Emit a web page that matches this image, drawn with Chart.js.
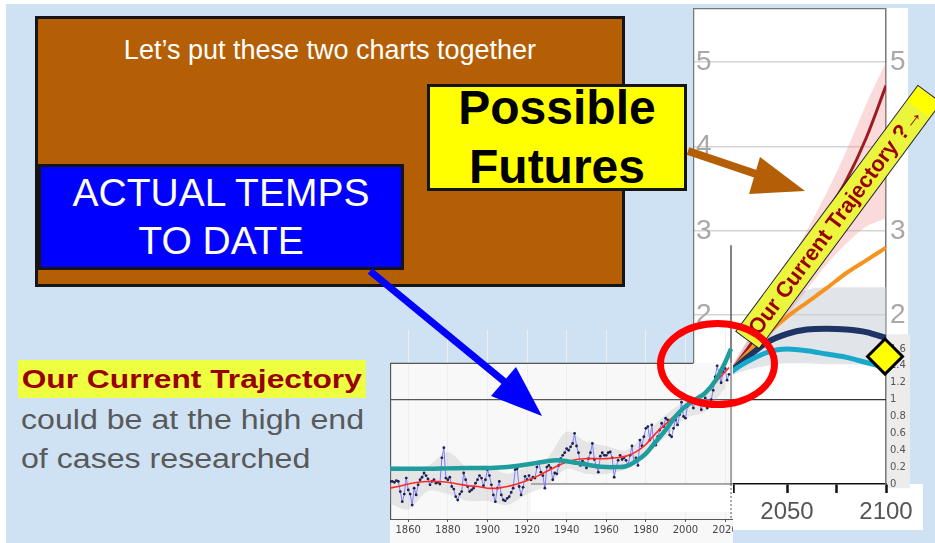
<!DOCTYPE html>
<html>
<head>
<meta charset="utf-8">
<script src="https://cdn.jsdelivr.net/npm/chart.js@4.4.1/dist/chart.umd.min.js"></script>
<style>
body{margin:0;background:#fff;width:935px;height:543px;overflow:hidden;position:relative;font-family:'Liberation Sans',Arial,sans-serif}
.abs{position:absolute}
#slide{left:6px;top:4px;width:929px;height:539px;background:#cfe2f3}
.box{box-sizing:border-box;border:3px solid #151515}
.txt{text-align:center;white-space:nowrap}
</style>
</head>
<body>
<div id="slide" class="abs"></div>

<div class="abs box" style="left:35px;top:16px;width:590px;height:271px;background:#b45f06"></div>
<div class="abs txt" style="left:35px;top:35px;width:590px;font-size:27px;line-height:30px;color:#fff">Let’s put these two charts together</div>

<div class="abs box" style="left:427px;top:84px;width:260px;height:107px;background:#ffff00"></div>
<div class="abs txt" style="left:427px;top:78px;width:260px;font-size:48px;line-height:59px;font-weight:bold;color:#000">Possible<br>Futures</div>

<div class="abs box" style="left:38px;top:164px;width:366px;height:106px;background:#0000ff"></div>
<div class="abs txt" style="left:38px;top:169px;width:366px;font-size:39px;line-height:48px;color:#fff">ACTUAL TEMPS<br>TO DATE</div>

<div class="abs" style="left:18px;top:360px;height:38px;line-height:38px;padding:0 3px;background:#eeff41;font-weight:bold;font-size:26px;color:#990000;transform:scaleX(1.22);transform-origin:0 0;white-space:nowrap">Our Current Trajectory</div>
<div class="abs" style="left:21px;top:400px;line-height:40px;font-size:27px;color:#595959;transform:scaleX(1.19);transform-origin:0 0;white-space:nowrap">could be at the high end</div>
<div class="abs" style="left:21px;top:439px;line-height:40px;font-size:27px;color:#595959;transform:scaleX(1.19);transform-origin:0 0;white-space:nowrap">of cases researched</div>

<canvas id="fut" class="abs" width="232" height="537" style="left:693px;top:8px"></canvas>
<div class="abs" style="left:390px;top:363px;width:343px;height:182px;background:#f8f8f8"></div>
<canvas id="hist" class="abs" width="343" height="215" style="left:390px;top:330px"></canvas>

<svg class="abs" width="935" height="543" style="left:0;top:0">
  <line x1="370" y1="271" x2="506" y2="383" stroke="#0000ff" stroke-width="7"/>
  <polygon points="491,396 516,367 542,416" fill="#0000ff"/>
  <line x1="688" y1="151" x2="762" y2="176" stroke="#b45f06" stroke-width="8"/>
  <polygon points="760,157 749,194 805,191" fill="#b45f06"/>
</svg>

<div class="abs" style="left:685px;top:202px;width:307px;height:30px;box-sizing:border-box;border:1.5px solid #222;background:linear-gradient(to right,#eaf53c 0,#eaf53c 94%,#ffff00 94%);transform:rotate(-53.5deg);font-weight:bold;font-size:22px;color:#990000;line-height:27px;padding-left:9px;white-space:nowrap;overflow:hidden">Our Current Trajectory ?→</div>

<div class="abs" style="left:657px;top:320px;width:121px;height:88px;box-sizing:border-box;border:7px solid #ff0000;border-radius:50%"></div>

<script>
// observed temperatures, one value per year from 1850
const histStart = 1850;
const histAnnual = [
  0.01, 0.03, 0.03, 0.02, 0.04, 0.03, -0.09, -0.21, -0.12, 0.07,
  -0.07, -0.12, -0.25, -0.05, -0.13, -0.01, 0.05, 0.08, 0.13, 0.10,
  0.06, -0.01, 0.03, 0.05, 0.01, 0.02, 0.00, 0.31, 0.43, 0.07,
  0.05, 0.08, -0.03, -0.06, -0.15, -0.19, -0.12, -0.09, 0.13, 0.05,
  -0.03, -0.09, -0.07, -0.05, 0.01, 0.05, 0.10, 0.07, -0.02, 0.05,
  0.17, 0.10, -0.01, -0.13, -0.21, -0.05, 0.03, -0.13, -0.19, -0.20,
  -0.17, -0.15, -0.10, -0.05, 0.17, 0.18, -0.03, -0.13, -0.04, 0.09,
  0.05, 0.10, 0.05, 0.08, 0.07, 0.20, 0.25, 0.14, 0.10, -0.05,
  0.20, 0.22, 0.19, 0.05, 0.13, 0.12, 0.22, 0.30, 0.34, 0.37,
  0.42, 0.40, 0.44, 0.48, 0.60, 0.45, 0.37, 0.22, 0.27, 0.25,
  0.19, 0.30, 0.37, 0.48, 0.29, 0.22, 0.14, 0.33, 0.37, 0.34,
  0.34, 0.37, 0.38, 0.31, 0.08, 0.20, 0.28, 0.34, 0.29, 0.31,
  0.28, 0.22, 0.34, 0.45, 0.25, 0.31, 0.22, 0.52, 0.45, 0.56,
  0.66, 0.68, 0.52, 0.70, 0.48, 0.46, 0.56, 0.64, 0.72, 0.68,
  0.78, 0.76, 0.58, 0.56, 0.66, 0.76, 0.70, 0.82, 0.97, 0.80,
  0.78, 0.92, 0.96, 0.97, 0.90, 1.00, 0.97, 0.95, 0.88, 0.97,
  1.02, 0.90, 0.95, 1.00, 1.11, 1.27, 1.40, 1.30, 1.20, 1.33,
  1.37, 1.23, 1.30
];
// smoothed red curve
const redYears = [1850,1855,1860,1865,1870,1875,1880,1885,1890,1895,1900,1905,1910,1915,1920,1925,1930,1935,1940,1945,1950,1955,1960,1965,1970,1975,1980,1985,1990,1995,2000,2005,2010,2015,2020,2022];
const redVals = [-0.05,-0.03,0.0,0.02,0.03,0.03,0.02,0.0,-0.02,-0.03,-0.05,-0.05,-0.03,0.0,0.04,0.09,0.15,0.21,0.26,0.29,0.3,0.3,0.3,0.31,0.33,0.38,0.47,0.6,0.71,0.82,0.92,1.0,1.08,1.2,1.33,1.38];
// thick teal curve
const tealYears = [1850,1860,1870,1880,1890,1900,1910,1920,1925,1930,1935,1940,1945,1950,1955,1960,1965,1970,1975,1980,1985,1990,1995,2000,2005,2010,2015,2020,2023];
const tealVals = [0.18,0.18,0.18,0.185,0.19,0.19,0.2,0.23,0.25,0.27,0.28,0.27,0.25,0.23,0.21,0.2,0.2,0.21,0.27,0.36,0.5,0.64,0.8,0.92,1.0,1.08,1.22,1.44,1.6];
// grey uncertainty envelope
const bandYears = [1850,1860,1870,1880,1890,1900,1910,1920,1930,1940,1950,1960,1970,1980,1990,2000,2010,2020];
const bandHi = [0.22,0.2,0.22,0.38,0.2,0.22,0.12,0.2,0.3,0.62,0.5,0.45,0.4,0.6,0.82,0.98,1.08,1.42];
const bandLo = [-0.22,-0.3,-0.08,-0.12,-0.2,-0.2,-0.25,-0.12,-0.02,0.18,0.12,0.12,0.18,0.38,0.56,0.78,0.86,1.14];
const histTicks = [1860,1880,1900,1920,1940,1960,1980,2000,2020];

// projections
const futYears = [2021,2030,2040,2050,2060,2070,2080,2090,2100];
const darkRedVals = [1.32,1.6,1.95,2.3,2.75,3.2,3.6,4.1,4.72];
const pinkHi = [1.35,1.7,2.1,2.55,3.0,3.45,3.95,4.5,5.0];
const pinkLo = [1.28,1.45,1.7,2.0,2.3,2.6,2.85,3.05,3.15];
const orangeVals = [1.32,1.55,1.78,1.98,2.15,2.32,2.5,2.65,2.8];
const navyVals = [1.32,1.5,1.68,1.78,1.83,1.84,1.83,1.8,1.73];
const cyanVals = [1.32,1.45,1.56,1.6,1.58,1.54,1.5,1.44,1.38];
const greyHi = [1.35,1.7,2.0,2.2,2.3,2.33,2.33,2.33,2.33];
const greyLo = [1.28,1.35,1.4,1.43,1.43,1.42,1.42,1.41,1.4];
const markerYear = [2099.5];
const markerVal = [1.51];
const futYTicks = [0,0.2,0.4,0.6,0.8,1,1.2,1.4,1.6,2,3,4,5];
const futXTicks = [2023,2050,2075,2100];
const futXLabels = [2050,2100];

function pts(xs, ys) {
  return xs.map((x, i) => ({x: x, y: ys[i]}));
}

const histDecor = {
  id: 'histDecor',
  beforeDatasetsDraw(c) {
    const g = c.ctx, x = c.scales.x, y = c.scales.y;
    g.save();
    // white patch left by the future chart
    const px = x.getPixelForValue(1922);
    g.fillStyle = '#fff';
    g.fillRect(px, y.getPixelForValue(0), c.width - px, y.getPixelForValue(-0.33) - y.getPixelForValue(0));
    g.strokeStyle = '#555';
    g.lineWidth = 1.3;
    g.beginPath();
    g.moveTo(0, y.getPixelForValue(1.43)); g.lineTo(x.getPixelForValue(2004), y.getPixelForValue(1.43));
    g.moveTo(0, y.getPixelForValue(1)); g.lineTo(c.width, y.getPixelForValue(1));
    g.moveTo(0.5, y.getPixelForValue(1.43)); g.lineTo(0.5, c.chartArea.bottom);
    g.stroke();
    g.lineWidth = 1;
    g.beginPath();
    g.moveTo(px, y.getPixelForValue(0)); g.lineTo(c.width, y.getPixelForValue(0));
    const nx = x.getPixelForValue(2023);
    g.moveTo(nx, y.getPixelForValue(1.43)); g.lineTo(nx, y.getPixelForValue(0));
    g.stroke();
    g.setLineDash([2, 2]);
    g.beginPath();
    g.moveTo(nx, y.getPixelForValue(0)); g.lineTo(nx, c.chartArea.bottom);
    g.stroke();
    g.restore();
  }
};

new Chart(document.getElementById('hist'), {
  type: 'line',
  data: {
    datasets: [
      {data: pts(tealYears, tealVals), borderColor: '#1f9c9c', borderWidth: 4.5, pointRadius: 0, tension: 0.4},
      {data: pts(redYears, redVals), borderColor: '#ff2a2a', borderWidth: 1.6, pointRadius: 0, tension: 0.4},
      {data: histAnnual.map((v, i) => ({x: histStart + i, y: v})), borderColor: '#7b7bff', borderWidth: 1,
        pointRadius: 1.4, pointBackgroundColor: '#20204a', pointBorderWidth: 0, tension: 0},
      {data: pts(bandYears, bandHi), borderWidth: 0, pointRadius: 0, fill: '+1', backgroundColor: 'rgba(170,170,170,0.25)', tension: 0.3},
      {data: pts(bandYears, bandLo), borderWidth: 0, pointRadius: 0, tension: 0.3}
    ]
  },
  options: {
    responsive: false,
    animation: false,
    layout: {padding: 0, autoPadding: false},
    plugins: {legend: {display: false}, tooltip: {enabled: false}},
    scales: {
      x: {
        type: 'linear', min: 1850.8, max: 2024,
        afterBuildTicks: s => { s.ticks = histTicks.map(v => ({value: v})); },
        afterFit: s => { s.height = 26; s.paddingLeft = 0; s.paddingRight = 0; },
        ticks: {color: '#444', font: {size: 10, family: 'DejaVu Sans'}, padding: 2, maxRotation: 0, autoSkip: false, callback: v => String(v)},
        grid: {color: '#eeeeee', tickLength: 3, tickColor: '#555'},
        border: {color: '#555'}
      },
      y: {min: -0.415, max: 1.825, display: false}
    }
  },
  plugins: [histDecor]
});

const futDecor = {
  id: 'futDecor',
  beforeDraw(c) {
    const g = c.ctx, a = c.chartArea, x = c.scales.x, y = c.scales.y;
    g.save();
    g.fillStyle = '#fff';
    g.fillRect(a.left, a.top, a.right - a.left, a.bottom - a.top);
    g.fillRect(a.right, a.top, 22, y.getPixelForValue(1.77) - a.top);
    const nx = x.getPixelForValue(2021.7);
    g.fillRect(nx, a.bottom, 192, 46);
    g.fillStyle = '#ececec';
    g.fillRect(a.right, y.getPixelForValue(1.77), 24, y.getPixelForValue(-0.05) - y.getPixelForValue(1.77));
    g.restore();
  },
  beforeDatasetsDraw(c) {
    const g = c.ctx, a = c.chartArea, x = c.scales.x, y = c.scales.y;
    const nx = x.getPixelForValue(2021.7);
    g.save();
    g.strokeStyle = '#777';
    g.lineWidth = 1.5;
    g.beginPath();
    g.moveTo(a.left + 0.5, y.getPixelForValue(1.43)); g.lineTo(a.left + 0.5, a.top + 0.5); g.lineTo(a.right, a.top + 0.5);
    g.stroke();
    g.strokeStyle = '#333';
    g.lineWidth = 1.2;
    g.beginPath();
    g.moveTo(nx, y.getPixelForValue(2.83)); g.lineTo(nx, y.getPixelForValue(0));
    g.moveTo(nx, y.getPixelForValue(1)); g.lineTo(a.right, y.getPixelForValue(1));
    g.stroke();
    g.restore();
  }
};

const bigFont = {size: 28, family: "'Liberation Sans Narrow', 'Liberation Sans'"};
const smallFont = {size: 10, family: 'DejaVu Sans'};

new Chart(document.getElementById('fut'), {
  type: 'line',
  data: {
    datasets: [
      {data: pts(markerYear, markerVal), showLine: false, pointStyle: 'rectRot', pointRadius: 17.5,
        pointBackgroundColor: '#ffff00', pointBorderColor: '#000', pointBorderWidth: 3, clip: false},
      {data: pts(futYears, cyanVals), borderColor: '#17a8ca', borderWidth: 5, pointRadius: 0, cubicInterpolationMode: 'monotone'},
      {data: pts(futYears, navyVals), borderColor: '#1e3465', borderWidth: 6, pointRadius: 0, cubicInterpolationMode: 'monotone'},
      {data: pts(futYears, orangeVals), borderColor: '#f7921e', borderWidth: 4, pointRadius: 0, cubicInterpolationMode: 'monotone'},
      {data: pts(futYears, darkRedVals), borderColor: '#9e1b22', borderWidth: 3, pointRadius: 0, cubicInterpolationMode: 'monotone'},
      {data: pts(futYears, pinkHi), borderWidth: 0, pointRadius: 0, fill: '+1', backgroundColor: 'rgba(238,140,140,0.32)', cubicInterpolationMode: 'monotone'},
      {data: pts(futYears, pinkLo), borderWidth: 0, pointRadius: 0, cubicInterpolationMode: 'monotone'},
      {data: pts(futYears, greyHi), borderWidth: 0, pointRadius: 0, fill: '+1', backgroundColor: 'rgba(200,208,216,0.55)', cubicInterpolationMode: 'monotone'},
      {data: pts(futYears, greyLo), borderWidth: 0, pointRadius: 0, cubicInterpolationMode: 'monotone'}
    ]
  },
  options: {
    responsive: false,
    animation: false,
    layout: {padding: 0, autoPadding: false},
    plugins: {legend: {display: false}, tooltip: {enabled: false}},
    scales: {
      x: {
        type: 'linear', min: 2002.5, max: 2100,
        afterBuildTicks: s => { s.ticks = futXTicks.map(v => ({value: v})); },
        afterFit: s => { s.height = 61; s.paddingLeft = 0; s.paddingRight = 0; },
        ticks: {autoSkip: false, maxRotation: 0, color: '#555', font: {size: 24, family: 'Liberation Sans'}, padding: 5,
          callback: v => futXLabels.includes(v) ? String(v) : ''},
        grid: {drawOnChartArea: false, tickLength: 9, tickWidth: 2.5, tickColor: '#111'},
        border: {color: '#111', width: 1.5}
      },
      y: {
        position: 'right', min: 0, max: 5.64,
        afterBuildTicks: s => { s.ticks = futYTicks.map(v => ({value: v})); },
        afterFit: s => { s.width = 39; s.paddingTop = 0; s.paddingBottom = 0; },
        ticks: {
          autoSkip: false, padding: 4,
          font: c => (c.tick && c.tick.value >= 2) ? bigFont : smallFont,
          color: c => (c.tick && c.tick.value >= 2) ? '#a8a8a8' : '#555',
          callback: v => String(Math.round(v * 10) / 10)
        },
        grid: {drawTicks: false, lineWidth: 1.5, color: c => (c.tick && c.tick.value >= 2) ? '#d4d4d4' : 'rgba(0,0,0,0)'},
        border: {color: '#777', width: 1.5}
      },
      yl: {
        position: 'left', min: 0, max: 5.64,
        afterBuildTicks: s => { s.ticks = [2, 3, 4, 5].map(v => ({value: v})); },
        afterFit: s => { s.width = 0; s.paddingTop = 0; s.paddingBottom = 0; },
        ticks: {mirror: true, padding: 3, font: bigFont, color: '#a8a8a8', callback: v => String(v)},
        grid: {display: false},
        border: {display: false}
      }
    }
  },
  plugins: [futDecor]
});
</script>
</body>
</html>
